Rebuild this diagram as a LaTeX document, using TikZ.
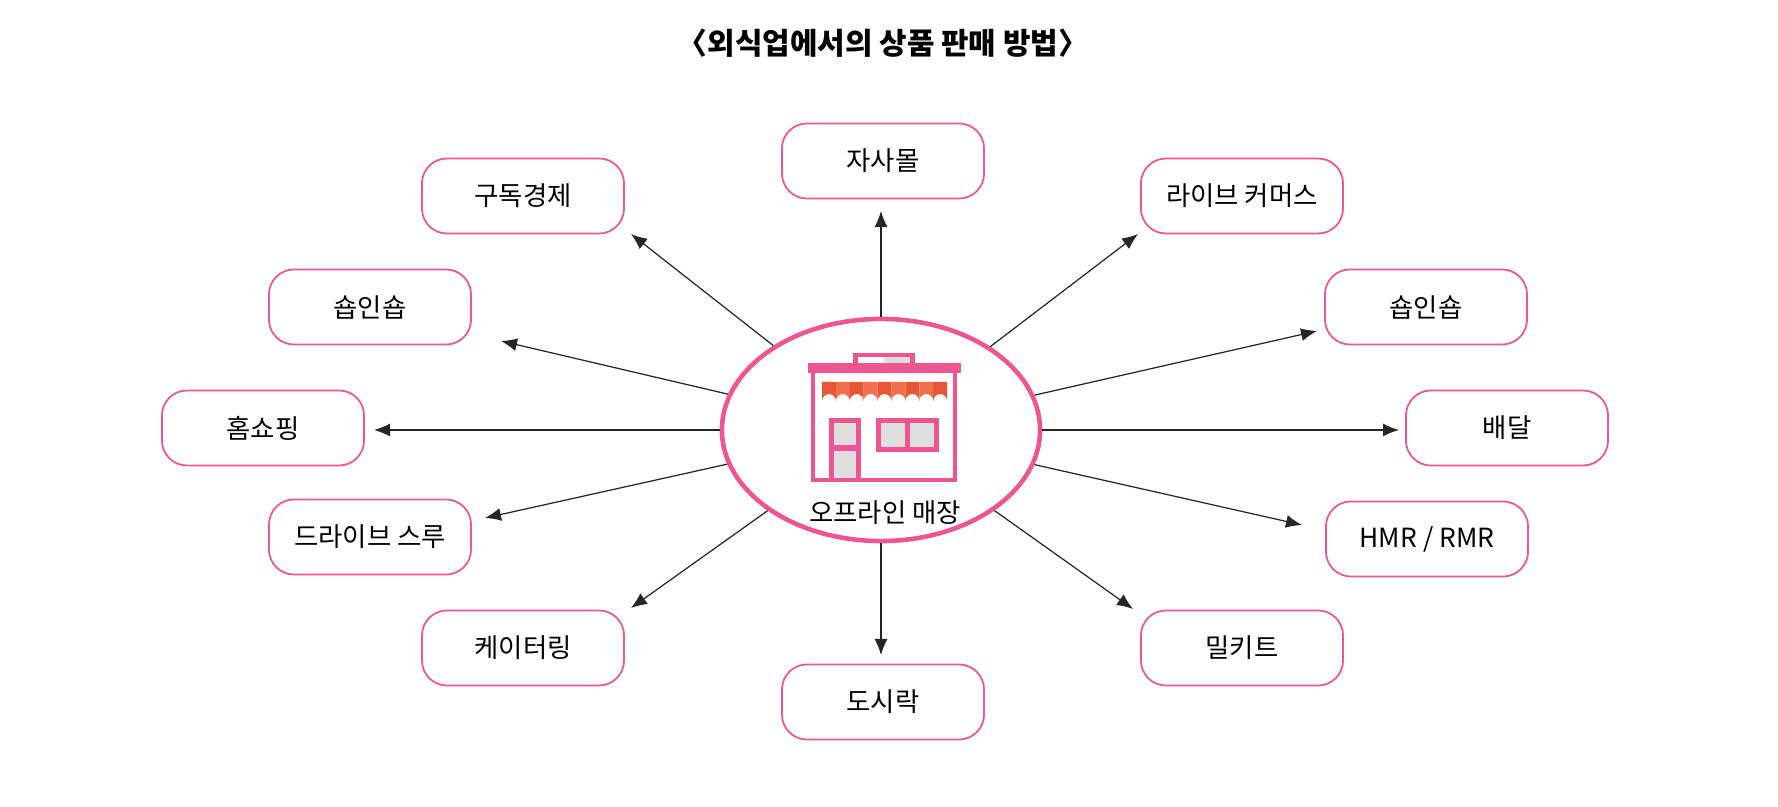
\documentclass[tikz,border=0pt]{standalone}
\usepackage{fontspec}
\setmainfont{Noto Sans CJK KR}
\usetikzlibrary{arrows.meta,shapes.geometric}
\definecolor{storepink}{HTML}{EE5592}
\definecolor{awnA}{HTML}{E85636}
\definecolor{awnB}{HTML}{F1704F}
\definecolor{glass}{HTML}{DEDEDE}
\tikzset{
  method/.style={draw=storepink, line width=0.5pt, rounded corners=0.25cm,
    minimum width=2.02cm, minimum height=0.75cm, font=\fontsize{7.5}{9}\selectfont},
  spoke/.style={draw=black!85, line width=0.35pt, -{Latex[length=1.6mm,width=1.3mm]}}
}
\begin{document}
\begin{tikzpicture}[x=0.01cm,y=-0.01cm]
\useasboundingbox (0,0) rectangle (1778,807);
\node[font=\bfseries\fontsize{8.5}{10}\selectfont] (title) at (883,43) {〈외식업에서의 상품 판매 방법〉};
\node[draw=storepink, line width=1.3pt, ellipse, minimum width=3.18cm, minimum height=2.22cm] (store) at (881,430) {};
% store icon
\fill[storepink] (853,353) rectangle (915,368);
\fill[white] (858,357) rectangle (884,365);
\fill[glass] (884,357) rectangle (910,365);
\fill[storepink] (808,363) rectangle (961,373);
\draw[storepink, line width=1.1pt] (813,373) -- (813,480) -- (955,480) -- (955,373);
\foreach \i in {0,...,8} {
  \pgfmathsetmacro{\xa}{822+\i*13.9}
  \ifodd\i \def\awn{awnB}\else\def\awn{awnA}\fi
  \fill[\awn] (\xa,382) -- (\xa+13.9,382) -- (\xa+13.9,401) arc (0:-180:6.95) -- cycle;
}
\fill[storepink] (829,418) rectangle (861,478);
\fill[glass] (834,423) rectangle (856,445);
\fill[glass] (834,451) rectangle (856,478);
\fill[storepink] (876,418) rectangle (939,452);
\fill[glass] (881,423) rectangle (905,447);
\fill[glass] (910,423) rectangle (934,447);
\node[font=\fontsize{7.5}{9}\selectfont] (storelbl) at (885,513) {오프라인 매장};
% methods
\foreach \nm/\x/\y/\txt/\ex/\ey in {
  own/883/161/자사몰/881/211,
  subs/523/196/구독경제/631/234,
  live/1242/196/라이브 커머스/1138/234,
  shopL/370/307/숍인숍/501/341,
  shopR/1426/307/숍인숍/1317/331,
  home/263/428/홈쇼핑/374/430,
  deliv/1507/428/배달/1399/430,
  drive/370/537/드라이브 스루/485/518,
  hmr/1427/539/{HMR / RMR}/1302/525,
  cater/523/648/케이터링/631/608,
  kit/1242/648/밀키트/1133/609,
  lunch/883/702/도시락/881/655} {
  \node[method] (\nm) at (\x,\y) {\txt};
  \coordinate (\nm-in) at (\ex,\ey);
  \draw[spoke] (store) -- (\nm-in);
}
\end{tikzpicture}
\end{document}
